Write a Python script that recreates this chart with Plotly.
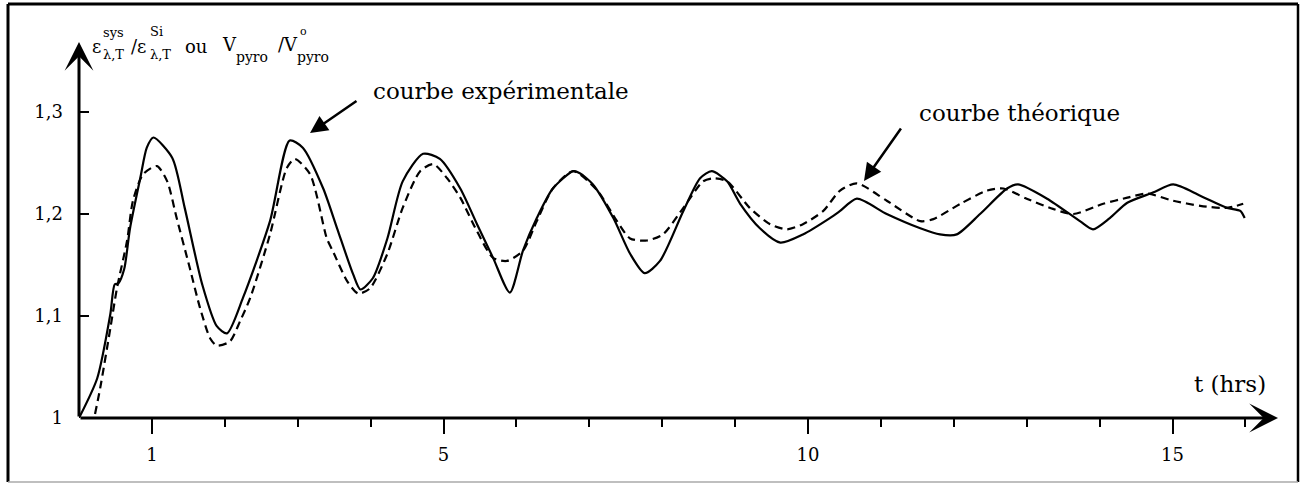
import plotly.graph_objects as go

# courbe expérimentale (trait plein)
t_exp = [0, 0.25, 0.43, 0.49, 0.54, 0.62, 0.70, 0.84, 0.93, 1.02, 1.28, 1.45, 1.69, 1.89, 2.03,
         2.25, 2.62, 2.89, 3.07, 3.35, 3.54, 3.76, 3.86, 4.03, 4.23, 4.44, 4.72, 4.95, 5.23,
         5.46, 5.68, 5.91, 6.09, 6.28, 6.50, 6.78, 6.87, 7.05, 7.33, 7.56, 7.76, 7.97, 8.29,
         8.52, 8.68, 8.89, 9.07, 9.34, 9.62, 9.93, 10.30, 10.44, 10.67, 11.08, 11.54, 11.81,
         12.04, 12.36, 12.73, 12.88, 13.28, 13.73, 13.91, 14.14, 14.38, 14.73, 15.01, 15.38,
         15.75, 15.93, 15.99]
v_exp = [1.000, 1.039, 1.102, 1.131, 1.132, 1.146, 1.186, 1.235, 1.265, 1.275, 1.255, 1.206,
         1.131, 1.090, 1.083, 1.118, 1.193, 1.272, 1.265, 1.225, 1.186, 1.141, 1.126, 1.137,
         1.176, 1.232, 1.259, 1.254, 1.225, 1.190, 1.157, 1.123, 1.164, 1.196, 1.225, 1.242,
         1.240, 1.229, 1.196, 1.161, 1.142, 1.154, 1.203, 1.235, 1.242, 1.232, 1.210, 1.186,
         1.172, 1.180, 1.196, 1.203, 1.215, 1.200, 1.186, 1.180, 1.180, 1.200, 1.225, 1.229,
         1.215, 1.193, 1.185, 1.196, 1.211, 1.221, 1.229, 1.218, 1.206, 1.203, 1.196]

# courbe théorique (tirets)
t_th = [0.22, 0.29, 0.43, 0.52, 0.66, 0.74, 0.88, 1.07, 1.21, 1.34, 1.52, 1.66, 1.80, 1.89,
        2.07, 2.21, 2.35, 2.62, 2.85, 2.96, 3.17, 3.40, 3.48, 3.68, 3.83, 3.99, 4.23, 4.44,
        4.68, 4.86, 5.05, 5.23, 5.46, 5.68, 5.87, 6.09, 6.28, 6.50, 6.78, 7.11, 7.38, 7.56,
        7.79, 8.01, 8.29, 8.56, 8.70, 8.89, 9.20, 9.48, 9.71, 9.93, 10.21, 10.44, 10.67,
        11.08, 11.54, 11.72, 12.09, 12.46, 12.68, 13.00, 13.36, 13.64, 14.05, 14.38, 14.65,
        15.01, 15.38, 15.75, 15.97]
v_th = [1.004, 1.029, 1.088, 1.127, 1.174, 1.213, 1.239, 1.247, 1.232, 1.196, 1.147, 1.108,
        1.078, 1.071, 1.075, 1.095, 1.118, 1.180, 1.245, 1.254, 1.239, 1.176, 1.164, 1.134,
        1.122, 1.127, 1.161, 1.206, 1.242, 1.249, 1.235, 1.216, 1.183, 1.157, 1.154, 1.164,
        1.193, 1.225, 1.242, 1.223, 1.193, 1.176, 1.174, 1.180, 1.206, 1.232, 1.235, 1.232,
        1.206, 1.190, 1.185, 1.190, 1.203, 1.223, 1.230, 1.213, 1.193, 1.195, 1.210, 1.223,
        1.225, 1.215, 1.205, 1.200, 1.210, 1.216, 1.220, 1.213, 1.208, 1.206, 1.210]

x_major = [1, 5, 10, 15]
x_minor = list(range(1, 17))
y_ticks = [1.0, 1.1, 1.2, 1.3]
y_labels = ["1", "1,1", "1,2", "1,3"]

W, H = 1303, 488
L, R, T, B = 79, 13, 40, 70
XPX = 72.9     # pixels par heure
YPX = 1020.0   # pixels par unite

serif = "DejaVu Serif"


def dx(p):
    return (p - L) / XPX


def dy(p):
    return 1.0 + (H - B - p) / YPX


def pxp(p):
    return (p - L) / (W - L - R)


def pyp(p):
    return (H - B - p) / (H - T - B)


fig = go.Figure()
fig.add_trace(go.Scatter(x=t_exp, y=v_exp, mode="lines", name="courbe expérimentale",
                         line=dict(color="black", width=2.2, shape="spline", smoothing=0.7)))
fig.add_trace(go.Scatter(x=t_th, y=v_th, mode="lines", name="courbe théorique",
                         line=dict(color="black", width=2.2, dash="8px,5px",
                                   shape="spline", smoothing=0.7)))

fig.update_xaxes(range=[0, (W - L - R) / XPX], showgrid=False, zeroline=False, showline=False,
                 tickvals=x_major, ticks="outside", ticklen=15, tickwidth=2, tickcolor="black",
                 ticklabelstandoff=5,
                 minor=dict(tickvals=x_minor, ticks="outside", ticklen=8, tickwidth=2,
                            tickcolor="black"),
                 tickfont=dict(family=serif, size=18, color="black"))
fig.update_yaxes(range=[1.0, 1.0 + (H - T - B) / YPX], showgrid=False, zeroline=False,
                 showline=False, tickvals=y_ticks, ticktext=y_labels, ticks="inside",
                 ticklen=10, tickwidth=2, tickcolor="black", ticklabelstandoff=15,
                 tickfont=dict(family=serif, size=18, color="black"))

ann = []
# axes avec fleches
ann.append(dict(x=dx(1278), y=1.0, ax=0, ay=1.0, xref="x", yref="y", axref="x", ayref="y",
                text="", showarrow=True, arrowhead=3, arrowsize=1.6, arrowwidth=3,
                arrowcolor="black"))
ann.append(dict(x=0, y=dy(42), ax=0, ay=1.0, xref="x", yref="y", axref="x", ayref="y",
                text="", showarrow=True, arrowhead=3, arrowsize=1.6, arrowwidth=3,
                arrowcolor="black"))

# fleches des legendes
ann.append(dict(x=dx(310), y=dy(133), ax=dx(358), ay=dy(100), xref="x", yref="y",
                axref="x", ayref="y", text="", showarrow=True, arrowhead=2, arrowsize=1.4,
                arrowwidth=2.5, arrowcolor="black"))
ann.append(dict(x=dx(864), y=dy(181), ax=dx(902), ay=dy(127), xref="x", yref="y",
                axref="x", ayref="y", text="", showarrow=True, arrowhead=2, arrowsize=1.4,
                arrowwidth=2.5, arrowcolor="black"))


def label(text, x, y, size, anchor="left"):
    ann.append(dict(x=pxp(x), y=pyp(y), xref="paper", yref="paper", text=text,
                    showarrow=False, xanchor=anchor, yanchor="middle",
                    font=dict(family=serif, size=size, color="black")))


label("courbe expérimentale", 371, 91, 23)
label("courbe théorique", 917, 113, 23)
label("t (hrs)", 1192, 384, 23)

# titre de l'axe des ordonnees (indices et exposants superposes)
label("ε", 90, 46, 18)
label("sys", 101, 32, 13)
label("λ,T", 101, 54, 13)
label("/ε", 129, 46, 18)
label("Si", 148, 31, 13)
label("λ,T", 148, 54, 13)
label("ou", 183, 46, 18)
label("V", 220, 44, 18)
label("pyro", 234, 57, 14)
label("/V", 276, 44, 18)
label("o", 298, 31, 11)
label("pyro", 295, 57, 14)

shapes = [
    dict(type="line", xref="paper", yref="paper", x0=pxp(8), y0=pyp(4), x1=pxp(1298),
         y1=pyp(4), line=dict(color="black", width=3)),
    dict(type="line", xref="paper", yref="paper", x0=pxp(8), y0=pyp(4), x1=pxp(8),
         y1=pyp(482), line=dict(color="black", width=3)),
    dict(type="line", xref="paper", yref="paper", x0=pxp(1298), y0=pyp(4), x1=pxp(1298),
         y1=pyp(482), line=dict(color="black", width=2.5)),
    dict(type="line", xref="paper", yref="paper", x0=pxp(8), y0=pyp(482), x1=pxp(1298),
         y1=pyp(482), line=dict(color="#aaaaaa", width=1.5)),
]

fig.update_layout(width=W, height=H, margin=dict(l=L, r=R, t=T, b=B),
                  plot_bgcolor="white", paper_bgcolor="white", showlegend=False,
                  annotations=ann, shapes=shapes)

# la page html ajoute une marge de 8px au body : on la retire
fig.write_html("out.html", config={"displayModeBar": False},
               post_script="document.body.style.margin = '0';")
